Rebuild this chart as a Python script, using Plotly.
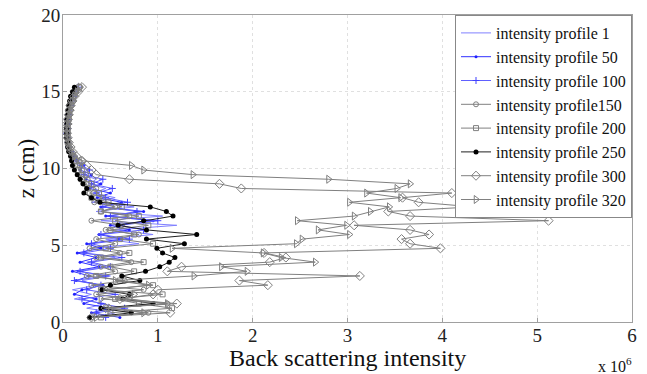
import plotly.graph_objects as go

# depth samples (cm), top to bottom
depth_cm = [15.3, 15.0, 14.7, 14.4, 14.1, 13.8, 13.5, 13.2, 12.9, 12.6,
            12.3, 12.0, 11.7, 11.4, 11.1, 10.8, 10.5, 10.2, 9.9, 9.6,
            9.3, 9.0, 8.7, 8.4, 8.1, 7.8, 7.5, 7.2, 6.9, 6.6,
            6.3, 6.0, 5.7, 5.4, 5.1, 4.8, 4.5, 4.2, 3.9, 3.6,
            3.3, 3.0, 2.7, 2.4, 2.1, 1.8, 1.5, 1.2, 0.9, 0.6, 0.3]

# back scattering intensity, in units of 1e6
profile_1 = [0.14, 0.12, 0.10, 0.08, 0.07, 0.06, 0.05, 0.05, 0.04, 0.04,
             0.04, 0.05, 0.05, 0.06, 0.07, 0.10, 0.12, 0.18, 0.25, 0.20,
             0.35, 0.28, 0.45, 0.32, 0.55, 0.30, 0.75, 0.35, 1.05, 0.40,
             1.20, 0.55, 0.95, 0.45, 0.80, 0.30, 0.20, 0.55, 0.25, 0.45,
             0.15, 0.50, 0.20, 0.35, 0.10, 0.30, 0.12, 0.45, 0.25, 0.55, 0.35]
profile_50 = [0.15, 0.12, 0.10, 0.09, 0.07, 0.06, 0.05, 0.05, 0.05, 0.04,
              0.04, 0.04, 0.05, 0.06, 0.08, 0.11, 0.15, 0.22, 0.18, 0.30,
              0.24, 0.40, 0.28, 0.50, 0.36, 0.62, 0.40, 0.85, 0.45, 0.95,
              0.50, 0.70, 0.38, 0.62, 0.25, 0.40, 0.15, 0.35, 0.18, 0.38,
              0.10, 0.28, 0.14, 0.42, 0.20, 0.12, 0.35, 0.22, 0.50, 0.30, 0.60]
profile_100 = [0.16, 0.13, 0.11, 0.09, 0.08, 0.06, 0.06, 0.05, 0.05, 0.05,
               0.04, 0.05, 0.05, 0.06, 0.08, 0.12, 0.14, 0.20, 0.28, 0.22,
               0.42, 0.30, 0.52, 0.35, 0.45, 0.68, 0.42, 0.78, 0.50, 1.00,
               0.60, 0.85, 0.40, 0.70, 0.30, 0.50, 0.22, 0.62, 0.30, 0.50,
               0.18, 0.45, 0.12, 0.40, 0.25, 0.55, 0.20, 0.40, 0.65, 0.35, 0.45]
profile_150 = [0.18, 0.14, 0.11, 0.09, 0.08, 0.07, 0.06, 0.05, 0.05, 0.04,
               0.04, 0.04, 0.05, 0.06, 0.07, 0.10, 0.13, 0.16, 0.20, 0.17,
               0.26, 0.22, 0.35, 0.28, 0.42, 0.33, 0.55, 0.40, 0.70, 0.30,
               0.62, 0.45, 0.80, 0.35, 0.55, 0.28, 0.60, 0.35, 0.72, 0.40,
               0.55, 0.25, 0.65, 0.30, 0.85, 0.35, 0.70, 1.10, 0.45, 0.90, 0.30]
profile_200 = [0.17, 0.13, 0.11, 0.10, 0.08, 0.07, 0.06, 0.06, 0.05, 0.05,
               0.05, 0.05, 0.05, 0.06, 0.08, 0.11, 0.14, 0.18, 0.16, 0.24,
               0.20, 0.30, 0.26, 0.38, 0.30, 0.48, 0.62, 0.40, 0.80, 0.55,
               0.90, 0.50, 0.75, 0.60, 0.95, 0.45, 0.70, 0.40, 0.85, 0.50,
               0.75, 0.35, 0.60, 0.95, 0.40, 1.05, 0.55, 0.80, 1.15, 0.50, 0.40]
profile_250 = [0.12, 0.10, 0.08, 0.07, 0.06, 0.05, 0.05, 0.04, 0.04, 0.04,
               0.04, 0.04, 0.05, 0.05, 0.06, 0.08, 0.09, 0.10, 0.12, 0.15,
               0.18, 0.21, 0.25, 0.22, 0.30, 0.39, 0.92, 1.09, 1.16, 0.85,
               0.58, 0.88, 1.41, 0.88, 1.28, 0.99, 1.05, 1.18, 1.12, 1.02,
               0.87, 0.62, 0.81, 0.50, 0.41, 0.70, 0.63, 0.95, 0.40, 0.72, 0.28]
profile_300 = [0.20, 0.16, 0.12, 0.10, 0.08, 0.07, 0.06, 0.05, 0.04, 0.04,
               0.04, 0.05, 0.06, 0.08, 0.10, 0.14, 0.20, 0.25, 0.30, 0.35,
               0.70, 1.65, 1.88, 4.10, 3.58, 3.75, 4.33, 3.43, 3.66, 5.12,
               3.07, 3.66, 3.86, 3.57, 3.66, 3.98, 2.12, 2.35, 2.18, 1.25,
               1.10, 3.13, 1.86, 2.16, 1.00, 0.95, 0.60, 1.20, 0.45, 1.13, 0.30]
profile_320 = [0.18, 0.15, 0.12, 0.10, 0.09, 0.08, 0.07, 0.06, 0.06, 0.05,
               0.05, 0.05, 0.06, 0.07, 0.09, 0.12, 0.21, 0.72, 0.85, 1.37,
               2.80, 3.66, 3.52, 3.20, 3.56, 3.02, 3.44, 3.24, 3.07, 2.47,
               2.99, 2.69, 3.02, 2.52, 2.46, 1.15, 2.11, 2.30, 2.66, 1.67,
               1.94, 1.38, 0.55, 0.90, 0.45, 0.75, 0.40, 1.10, 0.50, 0.85, 0.35]

x_ticks = [0, 1, 2, 3, 4, 5, 6]
y_ticks = [0, 5, 10, 15, 20]

FONT = "Liberation Serif"
GRAY = "#808080"

series = [
    ("intensity profile 1", profile_1, dict(color="#8080ff", width=1), dict(size=1, opacity=0), "lines"),
    ("intensity profile 50", profile_50, dict(color="#3030ff", width=1), dict(symbol="circle", size=3, color="#2020ff"), "lines+markers"),
    ("intensity profile 100", profile_100, dict(color="#6060ff", width=1), dict(symbol="cross-thin-open", size=5, color="#4040ff", line=dict(width=1, color="#4040ff")), "lines+markers"),
    ("intensity profile150", profile_150, dict(color=GRAY, width=1), dict(symbol="circle-open", size=5, color=GRAY, line=dict(width=1, color=GRAY)), "lines+markers"),
    ("intensity profile 200", profile_200, dict(color=GRAY, width=1), dict(symbol="square-open", size=5, color=GRAY, line=dict(width=1, color=GRAY)), "lines+markers"),
    ("intensity profile 250", profile_250, dict(color="#202020", width=1), dict(symbol="circle", size=5, color="black"), "lines+markers"),
    ("intensity profile 300", profile_300, dict(color=GRAY, width=1), dict(symbol="diamond-open", size=7, color=GRAY, line=dict(width=1, color=GRAY)), "lines+markers"),
    ("intensity profile 320", profile_320, dict(color=GRAY, width=1), dict(symbol="triangle-right-open", size=7, color=GRAY, line=dict(width=1, color=GRAY)), "lines+markers"),
]

fig = go.Figure()
for name, values, line, marker, mode in series:
    fig.add_trace(go.Scatter(x=values, y=depth_cm, name=name, mode=mode,
                             line=line, marker=marker))

axis_common = dict(showline=True, mirror=True, linecolor="#a0a0a0", linewidth=1,
                   showgrid=True, gridcolor="#e0e0e0", griddash="dot", gridwidth=1,
                   zeroline=False, ticks="inside", ticklen=4, tickcolor="#a0a0a0",
                   automargin=False,
                   tickfont=dict(family=FONT, size=19, color="#222"))

fig.update_layout(
    width=647, height=374,
    margin=dict(l=63, r=15, t=15, b=52),
    paper_bgcolor="white", plot_bgcolor="white",
    font=dict(family=FONT, color="#111"),
    showlegend=True,
    legend=dict(x=1, y=1, xanchor="right", yanchor="top",
                bgcolor="white", bordercolor="#888", borderwidth=1,
                font=dict(family=FONT, size=16, color="#111"),
                tracegroupgap=0, itemwidth=30),
    xaxis=dict(range=[0, 6], tickvals=x_ticks, ticktext=[str(v) for v in x_ticks],
               ticklabelstandoff=-4, **axis_common),
    yaxis=dict(range=[0, 20], tickvals=y_ticks, ticktext=[str(v) for v in y_ticks],
               ticklabelstandoff=-2,
               title=dict(text="z (cm)", font=dict(family=FONT, size=23), standoff=0),
               **axis_common),
)

# x-axis title and the common scale factor below the axis
fig.add_annotation(text="Back scattering intensity", xref="paper", yref="paper",
                   x=0.5, y=0, xanchor="center", yanchor="middle", yshift=-36,
                   showarrow=False, font=dict(family=FONT, size=24, color="#111"))
fig.add_annotation(text="x 10<sup>6</sup>", xref="paper", yref="paper",
                   x=1.0, y=0, xanchor="right", yanchor="top", yshift=-31, xshift=2,
                   showarrow=False, font=dict(family=FONT, size=16, color="#111"))

fig.write_html("out.html")
